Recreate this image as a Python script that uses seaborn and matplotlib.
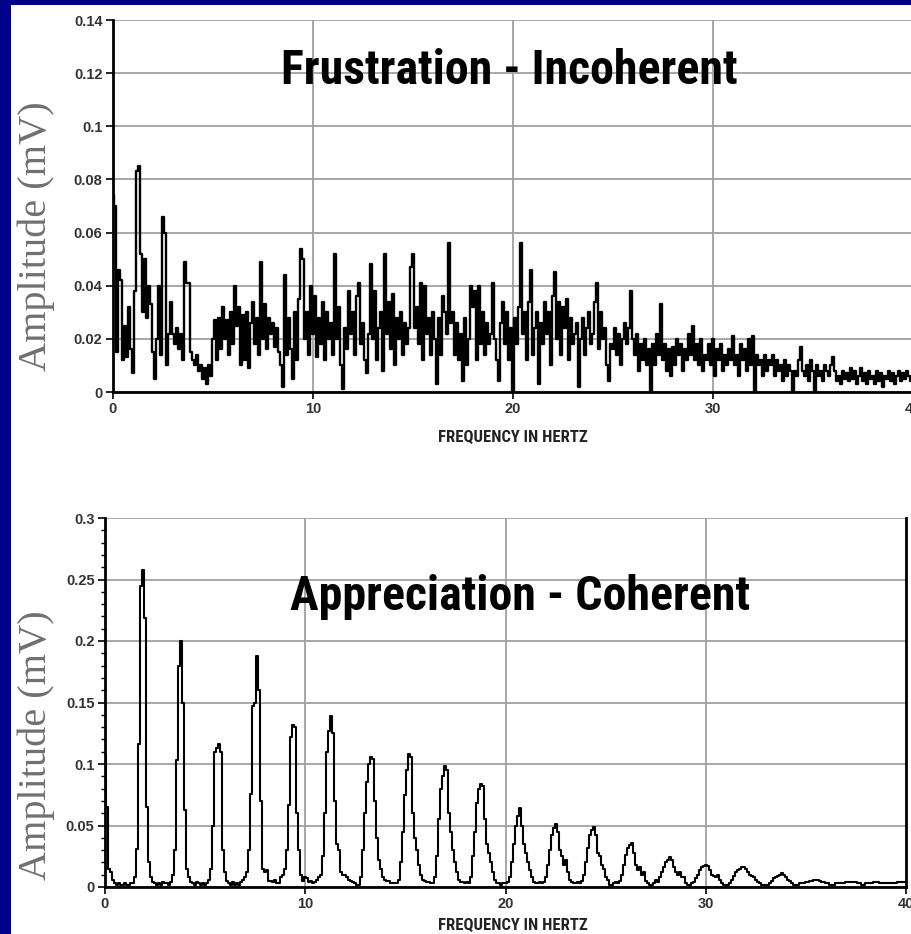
import numpy as np
import matplotlib
matplotlib.use("Agg")
import matplotlib.pyplot as plt
from matplotlib import font_manager as fm
from matplotlib.patches import Rectangle
from matplotlib.ticker import MultipleLocator
import seaborn as sns

# Frequency bins (Hz), 0.1 Hz resolution
freq = np.round(np.arange(0, 40.05, 0.1), 1)

# Frustration - incoherent spectrum, amplitude in mV/1000
frus_amp = np.array([
    74, 70, 15, 46, 42, 12, 25, 13, 32, 16,
    7, 38, 83, 85, 52, 30, 50, 28, 40, 33,
    15, 5, 20, 40, 14, 66, 60, 10, 22, 34,
    22, 18, 24, 16, 22, 12, 49, 41, 41, 15,
    12, 10, 14, 8, 10, 5, 9, 3, 10, 6,
    20, 27, 12, 28, 16, 32, 20, 27, 14, 30,
    18, 40, 25, 32, 10, 29, 12, 30, 9, 26,
    34, 18, 28, 14, 49, 20, 33, 16, 28, 22,
    26, 17, 24, 15, 10, 2, 44, 14, 28, 16,
    5, 30, 12, 35, 54, 50, 20, 30, 14, 40,
    22, 36, 13, 28, 18, 34, 12, 30, 20, 26,
    14, 52, 20, 32, 10, 1, 24, 16, 38, 22,
    30, 14, 36, 41, 18, 26, 12, 7, 22, 48,
    20, 38, 12, 24, 30, 8, 52, 22, 34, 16,
    37, 10, 28, 20, 30, 14, 26, 18, 24, 47,
    52, 24, 32, 18, 41, 12, 40, 22, 28, 14,
    30, 20, 3, 28, 14, 36, 30, 22, 56, 26,
    30, 14, 26, 12, 22, 4, 28, 10, 20, 40,
    32, 38, 12, 40, 18, 30, 14, 26, 18, 22,
    41, 20, 12, 4, 26, 34, 18, 30, 12, 24,
    0, 28, 18, 32, 56, 22, 30, 12, 34, 46,
    14, 24, 30, 3, 26, 18, 34, 22, 30, 10,
    36, 45, 20, 34, 14, 32, 24, 35, 12, 28,
    18, 22, 26, 2, 20, 28, 14, 24, 30, 18,
    22, 34, 41, 16, 30, 20, 24, 10, 4, 18,
    16, 24, 14, 22, 10, 20, 26, 18, 24, 38,
    20, 14, 22, 8, 18, 12, 20, 10, 16, 0,
    18, 10, 22, 14, 33, 12, 18, 8, 16, 6,
    17, 10, 20, 14, 18, 8, 16, 12, 22, 14,
    25, 12, 18, 10, 20, 8, 14, 12, 18, 10,
    20, 6, 16, 12, 18, 8, 14, 10, 16, 12,
    21, 10, 14, 6, 18, 12, 16, 8, 20, 10,
    21, 0, 14, 10, 12, 6, 14, 8, 12, 10,
    14, 6, 12, 8, 10, 4, 12, 6, 10, 8,
    0, 8, 6, 12, 17, 8, 6, 10, 4, 12,
    8, 0, 10, 6, 8, 4, 10, 8, 6, 10,
    13, 8, 4, 6, 3, 8, 5, 7, 4, 9,
    5, 8, 3, 6, 9, 4, 7, 3, 8, 5,
    6, 3, 8, 4, 7, 2, 6, 5, 8, 4,
    7, 3, 6, 8, 4, 7, 5, 8, 6, 4,
    6,
]) / 1000

# Appreciation - coherent spectrum, amplitude in mV/1000
appr_amp = np.array([
    107, 65, 15, 12, 6, 3, 2, 3, 2, 2,
    3, 2, 2, 3, 3, 8, 31, 116, 245, 258,
    219, 65, 20, 8, 4, 3, 2, 3, 2, 4,
    3, 3, 2, 4, 10, 30, 103, 180, 200, 150,
    63, 15, 8, 4, 3, 2, 4, 3, 2, 3,
    2, 3, 6, 15, 50, 110, 113, 116, 110, 30,
    12, 5, 3, 2, 4, 2, 3, 2, 4, 6,
    8, 12, 30, 76, 147, 150, 188, 160, 70, 15,
    12, 14, 5, 5, 4, 6, 3, 3, 8, 10,
    15, 30, 67, 122, 132, 130, 60, 30, 10, 5,
    8, 7, 4, 5, 3, 4, 6, 8, 10, 25,
    60, 110, 127, 139, 125, 70, 35, 30, 12, 10,
    10, 8, 6, 5, 4, 3, 2, 2, 8, 30,
    60, 85, 100, 106, 104, 70, 40, 22, 15, 8,
    6, 5, 5, 3, 3, 3, 3, 6, 20, 45,
    75, 95, 108, 106, 60, 40, 30, 18, 10, 6,
    5, 4, 4, 3, 3, 8, 25, 55, 80, 90,
    98, 95, 60, 45, 30, 20, 12, 6, 4, 4,
    3, 4, 3, 8, 25, 45, 68, 80, 84, 82,
    55, 35, 28, 20, 12, 6, 3, 3, 2, 3,
    3, 4, 8, 20, 35, 50, 58, 64, 50, 35,
    28, 20, 14, 8, 4, 3, 3, 4, 3, 4,
    8, 18, 30, 42, 48, 51, 45, 30, 25, 18,
    22, 12, 6, 4, 3, 3, 4, 3, 5, 10,
    20, 32, 42, 46, 49, 42, 28, 25, 18, 15,
    8, 6, 2, 2, 3, 4, 3, 5, 10, 18,
    26, 32, 34, 36, 28, 18, 14, 16, 10, 12,
    5, 3, 2, 2, 3, 6, 4, 8, 12, 16,
    20, 22, 24, 22, 16, 12, 10, 12, 8, 8,
    3, 2, 2, 3, 4, 7, 10, 14, 16, 17,
    18, 17, 14, 10, 9, 8, 10, 6, 3, 2,
    2, 2, 3, 6, 9, 12, 14, 15, 16, 16,
    15, 12, 10, 9, 8, 6, 4, 3, 2, 2,
    2, 2, 3, 5, 7, 8, 9, 10, 11, 10,
    8, 6, 5, 3, 2, 2, 2, 3, 3, 3,
    4, 4, 5, 5, 6, 6, 6, 5, 4, 4,
    3, 3, 2, 2, 2, 3, 3, 3, 3, 3,
    4, 4, 4, 4, 4, 4, 3, 3, 2, 2,
    3, 3, 3, 3, 4, 4, 4, 3, 3, 3,
    3, 3, 3, 3, 3, 3, 4, 4, 4, 4,
    4,
]) / 1000

x_ticks = [0, 10, 20, 30, 40]
frus_yticks = [0, 0.02, 0.04, 0.06, 0.08, 0.1, 0.12, 0.14]
frus_ylabels = ["0", "0.02", "0.04", "0.06", "0.08", "0.1", "0.12", "0.14"]
appr_yticks = [0, 0.05, 0.1, 0.15, 0.2, 0.25, 0.3]
appr_ylabels = ["0", "0.05", "0.1", "0.15", "0.2", "0.25", "0.3"]

sns.set_theme(style="white")

# pick a condensed bold face if one is installed
installed = {f.name for f in fm.fontManager.ttflist}
narrow_name = None
for cand in ["Liberation Sans Narrow", "Roboto Condensed", "Open Sans Condensed", "Arial Narrow"]:
    if cand in installed:
        narrow_name = cand
        break
narrow_stretch = "normal"
if narrow_name is None:
    has_dv_cond = any(f.name == "DejaVu Sans" and f.stretch in ("condensed", "semi-condensed", 600, 500)
                      for f in fm.fontManager.ttflist)
    narrow_name = "DejaVu Sans"
    narrow_stretch = "condensed" if has_dv_cond else "normal"
narrow = [narrow_name, "DejaVu Sans"]
sans = ["Liberation Sans", "DejaVu Sans"]
serif = ["Liberation Serif", "DejaVu Serif"]

W, H = 912, 934
fig = plt.figure(figsize=(W / 100, H / 100), dpi=100, facecolor="#00008b")
# white slide area behind the charts
fig.patches.append(Rectangle((11 / W, 0), 1, (H - 5) / H, transform=fig.transFigure,
                             facecolor="white", edgecolor="none", zorder=-10))


def px_axes(left, top, right, bottom):
    return fig.add_axes([left / W, 1 - bottom / H, (right - left) / W, (bottom - top) / H])


ax1 = px_axes(113, 20, 913, 392)
ax2 = px_axes(105, 518, 906, 887)


def style(ax, amp, yticks, ylabels, ymax, right_spine, lw):
    ax.patch.set_visible(False)
    sns.lineplot(x=freq, y=amp, ax=ax, color="black", linewidth=lw,
                 drawstyle="steps-mid", estimator=None)
    ax.set_xlim(0, 40)
    ax.set_ylim(0, ymax)
    ax.set_xticks(x_ticks)
    ax.set_xticklabels([str(t) for t in x_ticks])
    ax.set_yticks(yticks)
    ax.set_yticklabels(ylabels)
    ax.grid(True, color="#a0a0a0", linewidth=1.3)
    ax.set_axisbelow(True)
    for s in ["left", "bottom"]:
        ax.spines[s].set_color("black")
        ax.spines[s].set_linewidth(2)
    ax.spines["top"].set_visible(False)
    ax.spines["right"].set_visible(right_spine)
    if right_spine:
        ax.spines["right"].set_color("black")
        ax.spines["right"].set_linewidth(2)
    ax.tick_params(axis="both", which="major", direction="out", length=5, width=1.2,
                   color="black", pad=2.5, labelsize=10.5, labelcolor="#333333")
    ax.tick_params(left=True, bottom=True)
    for lab in ax.get_xticklabels() + ax.get_yticklabels():
        lab.set_fontfamily(sans)
        lab.set_fontweight("bold")
    ax.set_xlabel("")
    ax.set_ylabel("")


style(ax1, frus_amp, frus_yticks, frus_ylabels, 0.14, False, 1.7)
style(ax2, appr_amp, appr_yticks, appr_ylabels, 0.3, True, 1.5)
ax2.yaxis.set_minor_locator(MultipleLocator(0.01))
ax2.tick_params(axis="y", which="minor", direction="out", length=3, width=1, color="black", left=True)

ax1.text(0.495, 0.862, "Frustration - Incoherent", transform=ax1.transAxes, ha="center", va="center",
         fontsize=34.5, fontweight="bold", family=narrow, fontstretch=narrow_stretch, color="black")
ax2.text(0.518, 0.786, "Appreciation - Coherent", transform=ax2.transAxes, ha="center", va="center",
         fontsize=34.5, fontweight="bold", family=narrow, fontstretch=narrow_stretch, color="black")

for yc in (437, 925):
    fig.text(513 / W, 1 - yc / H, "FREQUENCY IN HERTZ", ha="center", va="center",
             fontsize=12, fontweight="bold", family=narrow, fontstretch=narrow_stretch, color="#222222")

for yc in (236, 745):
    fig.text(36 / W, 1 - yc / H, "Amplitude (mV)", rotation=90, ha="center", va="center",
             fontsize=29, family=serif, color="#707070")

fig.savefig("out.png", dpi=100, facecolor=fig.get_facecolor())
